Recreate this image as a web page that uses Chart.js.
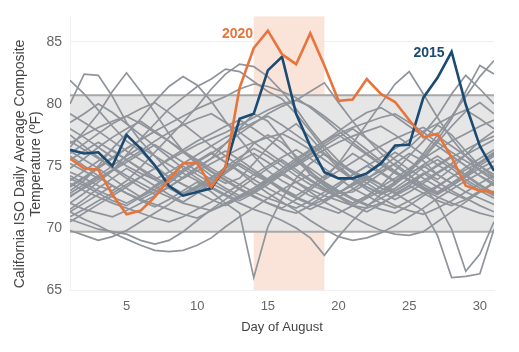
<!DOCTYPE html>
<html>
<head>
<meta charset="utf-8">
<script src="https://cdn.jsdelivr.net/npm/chart.js@4.4.1/dist/chart.umd.min.js"></script>
<style>
  html, body { margin: 0; padding: 0; background: #fff; }
  #wrap { width: 519px; height: 352px; position: relative; }
</style>
</head>
<body>
<div id="wrap"><canvas id="myChart"></canvas></div>
<script>
// ===============================
// DATA
// ===============================
const days = [];
for (let d = 1; d <= 31; d++) days.push(d);

const xTicks = [5, 10, 15, 20, 25, 30];
const yTicks = [65, 70, 75, 80, 85];
const yTitle = ['California ISO Daily Average Composite', 'Temperature (ºF)'];

// normal range band and heat-wave window
const bandLow = 69.7;
const bandHigh = 80.7;
const heatStart = 14;
const heatEnd = 19;

const temps2020 = [75.6, 74.8, 74.7, 72.7, 71.1, 71.4, 72.5, 73.9, 75.2, 75.25, 73.3, 74.9, 81.3, 84.5, 85.9, 84.0,
  83.2, 85.7, 83.1, 80.25, 80.35, 82.0, 80.8, 80.15, 78.7, 77.3, 77.6, 75.7, 73.4, 73.0, 72.9];
const temps2015 = [76.3, 76.0, 76.1, 75.0, 77.5, 76.4, 75.05, 73.4, 72.6, 72.9, 73.2, 74.9, 78.8, 79.2, 82.7, 83.8,
  79.2, 76.6, 74.5, 74.0, 74.0, 74.4, 75.2, 76.65, 76.7, 80.5, 82.1, 84.2, 79.95, 76.6, 74.6];

// other years (gray)
const g1 = [81.9, 80.8, 79.5, 78.2, 77.0, 76.2, 75.0, 74.1, 73.5, 73.0, 73.8, 74.5, 75.5, 76.8, 77.5, 76.9, 75.8, 74.6, 73.5, 72.8, 72.9, 73.6, 74.4, 75.2, 76.0, 75.4, 74.3, 73.6, 74.2, 75.3, 76.1];
const g2 = [80.0, 82.4, 82.3, 80.6, 78.5, 77.0, 75.8, 74.6, 74.0, 74.8, 75.6, 76.8, 78.0, 79.2, 78.6, 77.2, 75.6, 74.3, 73.4, 72.6, 72.0, 72.5, 73.4, 74.6, 75.8, 77.0, 78.3, 77.5, 76.2, 75.0, 74.1];
const g3 = [76.5, 77.8, 79.2, 81.0, 82.5, 81.0, 79.3, 77.6, 76.2, 75.1, 74.2, 73.6, 74.0, 75.2, 76.5, 77.6, 78.4, 77.3, 76.0, 74.8, 74.0, 73.3, 72.8, 73.5, 74.5, 75.6, 76.9, 78.2, 79.4, 80.1, 79.2];
const g4 = [73.0, 73.8, 75.0, 76.4, 77.6, 78.8, 80.2, 81.4, 82.2, 81.5, 80.2, 78.6, 77.2, 75.8, 74.6, 73.8, 73.2, 72.6, 72.2, 72.8, 73.6, 74.4, 75.3, 76.1, 75.4, 74.6, 73.9, 74.8, 75.9, 77.0, 77.8];
const g5 = [74.5, 74.0, 73.4, 73.0, 73.8, 74.9, 76.1, 77.3, 78.5, 79.8, 81.2, 82.4, 83.2, 83.0, 82.2, 81.0, 79.6, 78.0, 76.6, 75.4, 74.5, 73.9, 73.2, 72.8, 73.4, 74.3, 75.1, 75.8, 75.0, 74.2, 73.6];
const g6 = [72.0, 72.8, 73.7, 74.6, 75.9, 77.2, 78.4, 79.6, 80.5, 81.4, 82.0, 82.8, 82.6, 81.8, 81.0, 80.4, 79.2, 77.8, 76.3, 75.0, 74.0, 73.3, 72.7, 73.2, 74.0, 74.9, 75.5, 74.8, 73.9, 73.2, 72.6];
const g7 = [75.8, 75.0, 74.2, 73.4, 72.8, 72.3, 72.9, 73.6, 74.5, 75.3, 76.0, 76.8, 77.6, 78.4, 79.2, 79.8, 80.3, 81.0, 81.7, 80.1, 78.6, 77.2, 76.0, 75.0, 74.2, 73.5, 72.9, 73.6, 74.4, 75.2, 76.0];
const g8 = [74.0, 73.4, 72.8, 72.2, 71.8, 72.5, 73.4, 74.2, 75.0, 74.3, 73.6, 73.0, 72.4, 72.9, 73.7, 74.6, 75.4, 74.8, 74.0, 75.2, 76.8, 78.4, 80.0, 81.6, 82.6, 80.8, 78.9, 77.2, 75.8, 74.6, 73.8];
const g9 = [71.5, 72.3, 73.2, 74.0, 74.8, 74.1, 73.4, 72.7, 72.1, 72.8, 73.6, 74.4, 75.2, 74.5, 73.8, 73.0, 72.4, 71.9, 72.6, 73.4, 74.3, 75.0, 74.4, 73.7, 74.6, 76.0, 77.5, 79.0, 80.6, 82.2, 83.5];
const g10 = [77.5, 76.6, 75.7, 74.8, 74.0, 73.3, 72.7, 73.3, 74.1, 74.9, 75.6, 76.2, 75.5, 74.7, 73.9, 73.2, 72.6, 73.3, 74.2, 75.1, 76.0, 75.3, 74.5, 73.8, 74.6, 75.8, 77.1, 78.8, 81.0, 83.1, 82.4];
const g11 = [73.8, 74.6, 75.4, 76.3, 75.5, 74.7, 73.9, 73.2, 72.6, 73.2, 74.0, 74.9, 75.7, 76.4, 75.8, 75.0, 74.2, 73.5, 73.0, 72.5, 73.1, 73.9, 74.8, 75.7, 76.5, 77.6, 79.0, 80.8, 82.3, 81.2, 80.0];
const g12 = [72.5, 73.3, 74.1, 73.4, 72.8, 72.2, 71.7, 72.3, 73.0, 73.7, 72.9, 72.0, 71.2, 66.0, 70.1, 72.4, 74.0, 75.2, 76.0, 75.2, 74.4, 73.6, 72.9, 72.3, 72.9, 73.6, 74.4, 75.1, 74.3, 73.5, 72.8];
const g13 = [71.3, 70.7, 70.2, 69.6, 69.1, 68.6, 68.2, 68.1, 68.2, 68.6, 69.2, 70.1, 70.9, 71.6, 72.4, 73.1, 73.7, 74.3, 73.6, 72.9, 72.3, 71.8, 72.4, 73.0, 73.7, 74.4, 73.7, 73.0, 72.4, 71.8, 71.3];
const g14 = [70.7, 70.3, 69.9, 69.7, 69.5, 69.0, 68.7, 69.0, 69.7, 70.6, 71.5, 72.3, 73.2, 74.0, 74.8, 75.5, 74.7, 73.9, 73.2, 72.5, 71.8, 71.3, 71.9, 72.7, 73.4, 72.8, 72.2, 71.8, 72.3, 73.0, 73.6];
const g15 = [72.8, 73.5, 74.2, 75.0, 75.8, 76.5, 75.8, 75.1, 74.4, 73.8, 73.2, 72.6, 72.0, 71.5, 71.1, 70.6, 70.0, 69.2, 67.8, 69.3, 70.6, 71.7, 72.7, 73.6, 74.3, 75.1, 75.8, 75.0, 74.2, 73.4, 72.7];
const g16 = [74.2, 73.6, 73.0, 72.5, 72.0, 72.6, 73.3, 74.0, 74.7, 75.4, 76.0, 75.3, 74.6, 73.9, 73.2, 72.6, 72.0, 71.5, 72.1, 72.8, 73.5, 74.2, 73.5, 72.8, 72.1, 71.4, 69.4, 66.0, 66.1, 66.3, 69.9];
const g17 = [73.3, 74.0, 74.8, 75.6, 76.4, 77.1, 77.8, 77.0, 76.2, 75.4, 74.6, 73.9, 73.2, 72.6, 72.0, 71.5, 71.2, 71.8, 72.3, 72.9, 73.4, 74.0, 74.6, 75.2, 74.3, 73.3, 72.0, 69.9, 66.5, 67.9, 70.5];
const g18 = [76.2, 75.5, 74.8, 74.0, 73.2, 72.5, 73.1, 73.8, 74.6, 75.4, 76.1, 75.3, 74.5, 73.6, 72.8, 72.1, 71.4, 70.6, 69.9, 69.3, 69.0, 69.2, 69.6, 70.2, 70.9, 71.6, 72.4, 73.1, 73.8, 74.4, 75.0];
const g19 = [78.5, 79.2, 80.0, 79.3, 78.4, 77.5, 76.6, 75.7, 74.8, 74.0, 73.3, 72.7, 72.2, 72.8, 73.5, 74.3, 75.1, 75.9, 76.6, 77.3, 78.0, 77.2, 76.4, 75.5, 74.7, 74.0, 73.3, 72.8, 72.3, 72.9, 73.6];
const g20 = [76.0, 76.8, 77.6, 78.4, 79.0, 79.6, 80.1, 79.3, 78.4, 77.5, 76.6, 75.8, 75.0, 74.3, 73.7, 74.4, 75.2, 76.0, 76.8, 77.5, 76.7, 75.9, 75.1, 74.4, 73.8, 73.2, 72.7, 73.4, 74.2, 75.0, 75.8];
const g21 = [70.5, 71.2, 71.9, 72.6, 73.3, 74.1, 74.8, 75.6, 76.3, 77.0, 77.6, 78.2, 78.7, 78.0, 77.2, 76.3, 75.4, 74.5, 73.7, 73.0, 72.4, 71.9, 71.5, 71.2, 71.8, 72.6, 73.3, 74.1, 74.9, 75.6, 76.3];
const g22 = [74.8, 75.6, 76.5, 77.3, 78.0, 78.6, 77.8, 77.0, 76.1, 75.3, 74.5, 73.8, 73.1, 72.5, 72.0, 71.6, 72.3, 73.1, 73.9, 74.6, 75.3, 76.0, 76.6, 77.2, 77.7, 78.1, 77.4, 76.6, 75.8, 75.0, 74.3];
const g23 = [72.0, 71.5, 71.2, 70.9, 71.4, 72.0, 72.6, 73.3, 74.0, 74.6, 75.2, 75.8, 76.4, 76.9, 77.3, 77.6, 77.0, 76.3, 75.5, 74.7, 73.9, 73.1, 72.4, 71.8, 71.4, 71.1, 71.6, 72.2, 72.9, 73.6, 74.2];
const g24 = [79.2, 78.5, 77.8, 77.0, 76.2, 75.5, 74.8, 74.1, 73.5, 72.9, 72.3, 71.8, 72.4, 73.0, 73.7, 74.4, 75.0, 75.7, 76.3, 76.9, 77.4, 77.8, 78.2, 77.5, 76.7, 75.9, 75.1, 74.4, 73.7, 73.0, 72.4];
const g25 = [75.2, 74.6, 74.0, 74.7, 75.5, 76.2, 77.0, 77.7, 78.3, 78.8, 79.2, 78.5, 77.7, 76.9, 76.1, 75.3, 74.5, 73.8, 73.1, 72.5, 72.0, 72.6, 73.3, 74.0, 74.8, 75.6, 76.3, 77.0, 77.6, 78.2, 78.7];
const g26 = [73.4, 74.1, 74.9, 75.7, 76.4, 77.1, 77.8, 78.4, 79.0, 79.6, 80.1, 80.6, 81.2, 81.6, 81.4, 81.0, 80.5, 79.7, 78.8, 77.8, 76.9, 76.0, 75.2, 74.5, 73.9, 73.3, 72.8, 73.4, 74.1, 74.8, 75.4];
const g27 = [77.0, 76.3, 75.6, 74.9, 74.2, 73.6, 73.0, 72.5, 72.0, 71.7, 71.4, 71.9, 72.5, 73.2, 74.0, 74.8, 75.6, 76.3, 77.0, 77.6, 78.1, 78.5, 78.9, 79.2, 78.5, 77.7, 76.9, 76.1, 75.4, 74.7, 74.0];
const g28 = [71.3, 72.0, 72.7, 73.4, 72.8, 72.3, 71.9, 71.5, 71.1, 70.8, 71.4, 72.0, 72.6, 73.2, 73.8, 74.3, 73.7, 73.1, 72.6, 72.2, 71.8, 71.6, 72.0, 72.6, 73.2, 73.8, 74.5, 75.2, 75.9, 76.5, 77.1];
const g29 = [78.0, 77.3, 76.5, 75.7, 75.0, 74.4, 73.9, 74.5, 75.2, 75.9, 76.6, 77.3, 77.9, 78.5, 79.0, 78.3, 77.5, 76.7, 75.9, 75.2, 74.6, 74.0, 73.5, 73.0, 73.6, 74.3, 75.0, 75.7, 76.3, 76.9, 77.4];
const g30 = [73.6, 73.0, 72.5, 72.0, 71.6, 71.2, 70.8, 70.5, 70.9, 71.5, 72.1, 72.8, 73.5, 74.3, 75.0, 75.7, 76.3, 75.6, 74.8, 74.0, 73.2, 72.6, 72.0, 71.6, 72.2, 72.8, 73.4, 74.1, 74.7, 75.3, 75.9];
const g31 = [69.8, 69.4, 69.0, 69.3, 69.8, 70.5, 71.2, 71.9, 72.7, 73.3, 74.0, 74.6, 75.2, 74.5, 73.8, 73.1, 72.5, 72.0, 71.6, 71.2, 71.8, 72.4, 73.0, 73.7, 74.4, 75.0, 74.3, 73.6, 72.9, 72.4, 71.9];
const g32 = [75.5, 76.2, 76.9, 76.2, 75.5, 74.8, 74.1, 73.4, 72.8, 73.4, 74.1, 74.8, 75.4, 76.0, 75.3, 74.5, 73.7, 72.9, 72.1, 71.5, 70.9, 70.3, 69.8, 69.5, 69.4, 69.7, 70.5, 71.3, 72.1, 72.9, 73.7];
const g33 = [72.6, 73.2, 73.9, 74.6, 75.3, 76.0, 76.7, 76.0, 75.3, 74.6, 73.9, 73.2, 72.6, 73.2, 73.9, 74.6, 75.4, 76.2, 77.0, 77.8, 78.6, 79.3, 79.7, 79.0, 78.2, 77.4, 76.6, 75.8, 75.0, 74.2, 73.4];
const g34 = [70.9, 71.5, 72.2, 72.8, 73.5, 74.1, 74.8, 75.5, 76.1, 76.7, 77.2, 77.7, 78.3, 78.9, 79.5, 80.0, 80.3, 79.8, 79.0, 78.1, 77.2, 76.3, 75.4, 74.6, 73.8, 73.1, 72.5, 72.0, 71.6, 71.2, 70.9];
const g35 = [76.8, 77.5, 78.1, 78.6, 79.0, 78.4, 77.7, 77.0, 76.2, 75.5, 74.8, 74.1, 73.5, 72.9, 72.4, 72.0, 71.6, 72.2, 72.9, 73.6, 74.3, 75.0, 75.7, 76.4, 77.1, 77.8, 78.4, 79.0, 79.5, 78.8, 78.0];

const otherYears = [g1, g2, g3, g4, g5, g6, g7, g8, g9, g10, g11, g12, g13, g14, g15, g16, g17, g18,
  g19, g20, g21, g22, g23, g24, g25, g26, g27, g28, g29, g30, g31, g32, g33, g34, g35];

const orange = '#e8743b';
const navy = '#1b4a72';
const gray = '#8f949b';
const FONT = "'Liberation Sans', Arial, sans-serif";

function toPoints(vals) {
    return days.map((d, i) => ({ x: d, y: vals[i] }));
}

// ===============================
// BACKGROUND BANDS + LABELS
// ===============================
const bandPlugin = {
    id: 'bands',
    beforeDatasetsDraw(chart) {
        const { ctx, chartArea, scales } = chart;
        const x = scales.x, y = scales.y;
        ctx.save();
        // heat-wave window
        ctx.fillStyle = '#fae4da';
        const x0 = x.getPixelForValue(heatStart), x1 = x.getPixelForValue(heatEnd);
        ctx.fillRect(x0, chartArea.top, x1 - x0, chartArea.bottom - chartArea.top);
        // normal range band
        const yHi = y.getPixelForValue(bandHigh), yLo = y.getPixelForValue(bandLow);
        ctx.fillStyle = '#e6e6e6';
        ctx.fillRect(chartArea.left, yHi, chartArea.right - chartArea.left, yLo - yHi);
        ctx.strokeStyle = '#a8a8a8';
        ctx.lineWidth = 2;
        ctx.beginPath();
        ctx.moveTo(chartArea.left, yHi); ctx.lineTo(chartArea.right, yHi);
        ctx.moveTo(chartArea.left, yLo); ctx.lineTo(chartArea.right, yLo);
        ctx.stroke();
        ctx.restore();
    },
    afterDatasetsDraw(chart) {
        const { ctx, scales, chartArea } = chart;
        const x = scales.x, y = scales.y;
        ctx.save();
        ctx.font = 'bold 14px ' + FONT;
        ctx.textAlign = 'right';
        ctx.textBaseline = 'middle';
        ctx.fillStyle = orange;
        ctx.fillText('2020', x.getPixelForValue(13.95), y.getPixelForValue(85.6));
        ctx.fillStyle = navy;
        ctx.fillText('2015', x.getPixelForValue(27.5), y.getPixelForValue(84.05));

        // y axis title, two centred lines
        ctx.font = '14px ' + FONT;
        ctx.fillStyle = '#444';
        ctx.textAlign = 'center';
        const cy = chartArea.bottom - 126;
        ctx.translate(20, cy);
        ctx.rotate(-Math.PI / 2);
        ctx.fillText(yTitle[0], 0, 0);
        ctx.fillText(yTitle[1], 0, 16.5);
        ctx.restore();
    }
};

// ===============================
// CHART
// ===============================
const datasets = [
    { data: toPoints(temps2020), borderColor: orange, borderWidth: 2.6 },
    { data: toPoints(temps2015), borderColor: navy, borderWidth: 2.6 }
];
otherYears.forEach(vals => {
    datasets.push({ data: toPoints(vals), borderColor: gray, borderWidth: 1.7 });
});

new Chart(document.getElementById('myChart').getContext('2d'), {
    type: 'line',
    data: { datasets: datasets },
    options: {
        responsive: true,
        maintainAspectRatio: false,
        animation: false,
        events: [],
        elements: { point: { radius: 0 }, line: { tension: 0, fill: false } },
        layout: { padding: { left: 0, right: 25, top: 15, bottom: 0 } },
        plugins: { legend: { display: false }, tooltip: { enabled: false } },
        scales: {
            x: {
                type: 'linear',
                min: 1,
                max: 31,
                afterBuildTicks: s => { s.ticks = xTicks.map(v => ({ value: v })); },
                afterFit: s => { s.height = 62; },
                grid: { display: false, drawTicks: false },
                border: { display: true, color: '#f0f0f0' },
                ticks: { color: '#666', font: { family: FONT, size: 13 }, padding: 9 },
                title: { display: true, text: 'Day of August', color: '#444',
                         font: { family: FONT, size: 13 }, padding: { top: 0, bottom: 17 } }
            },
            y: {
                min: 65,
                max: 87.05,
                afterBuildTicks: s => { s.ticks = yTicks.map(v => ({ value: v })); },
                afterFit: s => { s.width = 70; },
                grid: { color: '#efefef', drawTicks: false },
                border: { display: true, color: '#f0f0f0' },
                ticks: { color: '#666', font: { family: FONT, size: 14 }, padding: 8 },
                title: { display: false }
            }
        }
    },
    plugins: [bandPlugin]
});
</script>
</body>
</html>
